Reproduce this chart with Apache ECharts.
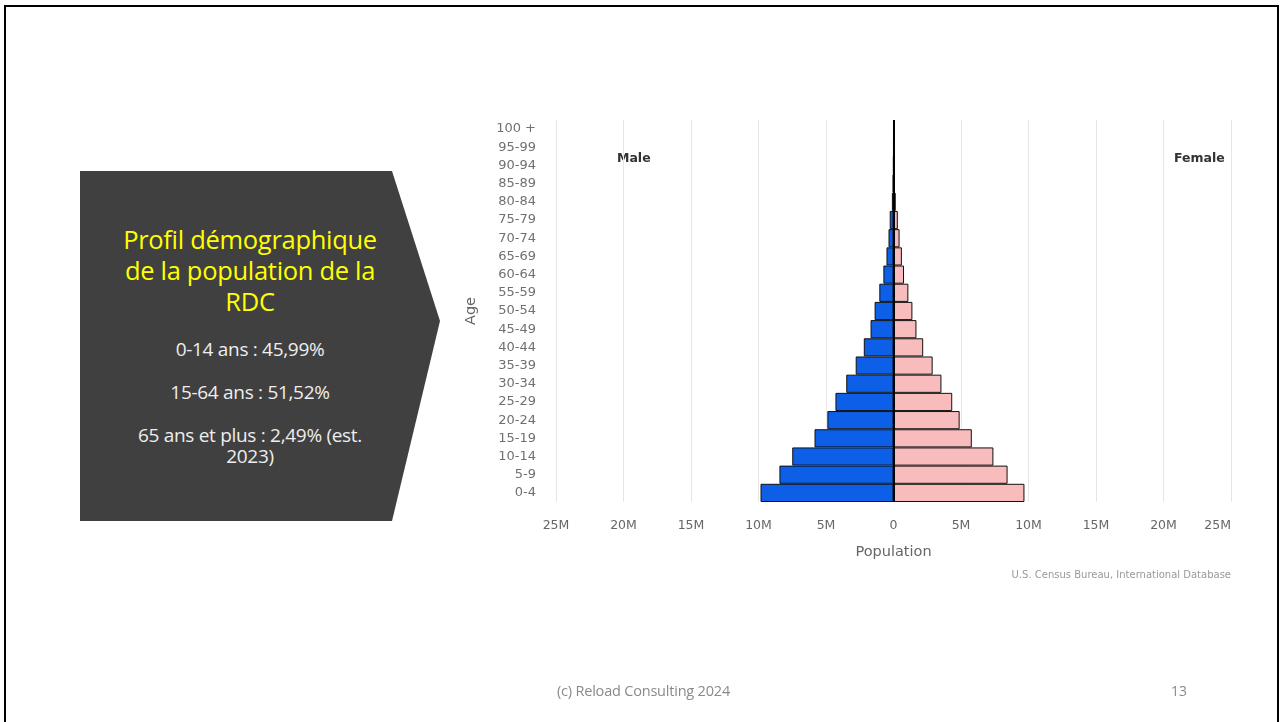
<!DOCTYPE html>
<html>
<head>
<meta charset="utf-8">
<script src="https://cdn.jsdelivr.net/npm/echarts@6/dist/echarts.min.js"></script>
<style>
  html, body { margin:0; padding:0; background:#fff; width:1283px; height:722px; overflow:hidden; }
  #frame { position:absolute; left:4px; top:5px; width:1275px; height:740px; border:2px solid #000; box-sizing:border-box; }
  #chart { position:absolute; left:0; top:0; width:1283px; height:722px; }
  #box { position:absolute; left:80px; top:171px; width:360px; height:350px; background:#404040;
         clip-path: polygon(0 0, 312px 0, 360px 150px, 312px 350px, 0 350px); }
  .t { position:absolute; width:340px; left:0; text-align:center; font-family:"Open Sans", sans-serif; }
  #title { top:53px; color:#ffff00; font-size:25.5px; line-height:31px; left:0; width:340px; letter-spacing:-0.3px; }
  .w { color:#eeeeee; font-size:19px; line-height:21px; letter-spacing:-0.3px; }
  #foot { position:absolute; left:557px; top:681px; color:#8a8a8a; font-family:"Open Sans", sans-serif; font-size:14.5px; letter-spacing:-0.2px; }
  #page { position:absolute; left:1171px; top:681px; color:#8a8a8a; font-family:"Open Sans", sans-serif; font-size:14px; }
</style>
</head>
<body>
<div id="chart"></div>
<div id="frame"></div>
<div id="box">
  <div class="t" id="title">Profil démographique<br>de la population de la<br>RDC</div>
  <div class="t w" style="top:168px">0-14 ans : 45,99%</div>
  <div class="t w" style="top:211px">15-64 ans : 51,52%</div>
  <div class="t w" style="top:254px">65 ans et plus : 2,49% (est.<br>2023)</div>
</div>
<div id="foot">(c) Reload Consulting 2024</div>
<div id="page">13</div>
<script>
const ageGroups = ['0-4','5-9','10-14','15-19','20-24','25-29','30-34','35-39','40-44','45-49','50-54','55-59','60-64','65-69','70-74','75-79','80-84','85-89','90-94','95-99','100 +'];
// millions
const maleValues   = [9.85, 8.45, 7.5, 5.85, 4.9, 4.3, 3.5, 2.8, 2.2, 1.7, 1.4, 1.05, 0.75, 0.52, 0.37, 0.28, 0.12, 0.05, 0.015, 0.003, 0.0005];
const femaleValues = [9.7, 8.45, 7.4, 5.8, 4.9, 4.35, 3.55, 2.9, 2.2, 1.7, 1.4, 1.1, 0.78, 0.62, 0.45, 0.32, 0.17, 0.07, 0.02, 0.004, 0.0006];
const xTicks = [-25, -20, -15, -10, -5, 0, 5, 10, 15, 20, 25];

const chart = echarts.init(document.getElementById('chart'));
const font = 'DejaVu Sans';
chart.setOption({
  animation: false,
  backgroundColor: 'transparent',
  grid: { left: 556, right: 52, top: 120, bottom: 220, containLabel: false },
  xAxis: {
    type: 'value', min: xTicks[0], max: xTicks[xTicks.length-1], interval: 5,
    axisLine: { show: false }, axisTick: { show: false },
    splitLine: { show: true, lineStyle: { color: '#e6e6e6', width: 1 } },
    axisLabel: { color: '#666', fontFamily: font, fontSize: 12.5, margin: 17, alignMaxLabel: 'right',
      formatter: v => v === 0 ? '0' : Math.abs(v) + 'M' },
    name: 'Population', nameLocation: 'middle', nameGap: 43,
    nameTextStyle: { color: '#666', fontFamily: font, fontSize: 14.5 }
  },
  yAxis: {
    type: 'category', data: ageGroups,
    axisLine: { show: false, onZero: false }, axisTick: { show: false },
    axisLabel: { color: '#707070', fontFamily: font, fontSize: 13, margin: 20, interval: 0, lineHeight: 14 },
    name: 'Age', nameLocation: 'middle', nameGap: 77, nameRotate: 90,
    nameTextStyle: { color: '#666', fontFamily: font, fontSize: 14.5 }
  },
  series: [
    { name: 'Male', type: 'bar', stack: 'pop', barCategoryGap: 0,
      data: maleValues.map(v => -v),
      itemStyle: { color: '#0c5fe6', borderColor: '#111', borderWidth: 1 },
      markLine: { silent: true, symbol: 'none', label: { show: false },
        lineStyle: { color: '#000', width: 2, type: 'solid' }, data: [{ xAxis: 0 }] }
    },
    { name: 'Female', type: 'bar', stack: 'pop', barCategoryGap: 0,
      data: femaleValues,
      itemStyle: { color: '#f8bcbc', borderColor: '#111', borderWidth: 1 } }
  ],
  graphic: [
    { type: 'text', left: 617, top: 152, style: { text: 'Male', fill: '#333', font: 'bold 12.5px DejaVu Sans' } },
    { type: 'text', left: 1174, top: 152, style: { text: 'Female', fill: '#333', font: 'bold 12.5px DejaVu Sans' } },
    { type: 'text', right: 52, top: 570, style: { text: 'U.S. Census Bureau, International Database', fill: '#999', font: '10px DejaVu Sans' } }
  ]
});
</script>
</body>
</html>
